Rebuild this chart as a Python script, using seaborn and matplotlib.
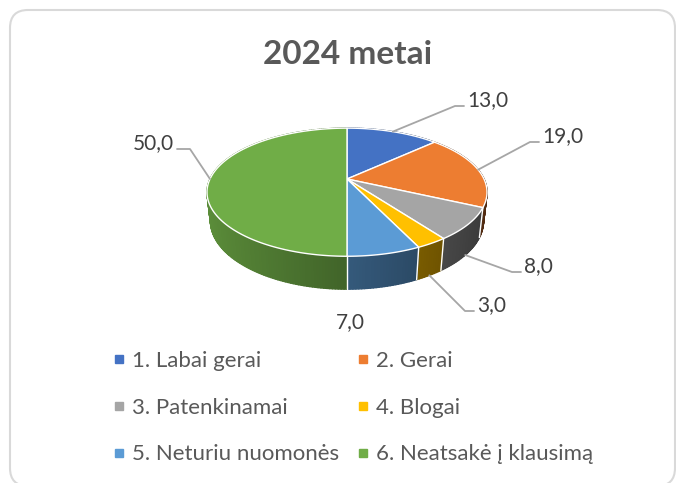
import numpy as np
import seaborn as sns
import matplotlib.pyplot as plt
from matplotlib.collections import PolyCollection
from matplotlib.patches import Polygon, FancyBboxPatch
from matplotlib.lines import Line2D
from matplotlib.colors import to_rgb

# ---- data ----
title = '2024 metai'
categories = ['1. Labai gerai', '2. Gerai', '3. Patenkinamai', '4. Blogai',
              '5. Neturiu nuomonės', '6. Neatsakė į klausimą']
values = [13.0, 19.0, 8.0, 3.0, 7.0, 50.0]
colors = ['#4472C4', '#ED7D31', '#A5A5A5', '#FFC000', '#5B9BD5', '#70AD47']

# data label text positions (px) and alignment
label_pos = [(467, 100, 'left'), (542, 136, 'left'), (524, 266, 'left'),
             (477, 305, 'left'), (350, 322, 'center'), (174, 143, 'right')]
leader = [True, True, True, True, False, True]

sns.set_theme(style='white')
plt.rcParams['font.family'] = ['Lato', 'DejaVu Sans']
palette = sns.color_palette(colors)

W, H = 676, 483
fig = plt.figure(figsize=(W / 100, H / 100), dpi=100)
ax = fig.add_axes([0, 0, 1, 1])
ax.set_xlim(0, W)
ax.set_ylim(H, 0)
ax.axis('off')

# chart border
ax.add_patch(FancyBboxPatch((10, 10), 665, 476, boxstyle='round,pad=0,rounding_size=18',
                            fc='white', ec='#d9d9d9', lw=1.5, clip_on=False, zorder=0))

# 3d pie projection
cx, cy, k = 347, 179, 137
elev = np.radians(26.6)
dist = 4.34
depth = 0.235


def proj(phi, z=0.0):
    x, y = np.cos(phi), np.sin(phi)
    v = y * np.sin(elev) + z * np.cos(elev)
    d = y * np.cos(elev) - z * np.sin(elev)
    s = dist / (dist + d)
    return cx + k * x * s, cy - k * v * s, d


total = sum(values)
cum = np.concatenate([[0], np.cumsum(values)])
starts = np.radians(90 - 360 * cum[:-1] / total)
ends = np.radians(90 - 360 * cum[1:] / total)

# side walls, far to near
quads, qcols, qdepth = [], [], []
for i in range(len(values)):
    n = max(4, int(abs(np.degrees(ends[i] - starts[i]))))
    ph = np.linspace(starts[i], ends[i], n + 1)
    base = np.array(to_rgb(palette[i]))
    for a, b in zip(ph[:-1], ph[1:]):
        x1, y1, _ = proj(a)
        x2, y2, _ = proj(b)
        x3, y3, _ = proj(b, -depth)
        x4, y4, _ = proj(a, -depth)
        m = (a + b) / 2
        f = 0.58 - 0.25 * np.cos(m)
        quads.append([(x1, y1), (x2, y2), (x3, y3), (x4, y4)])
        qcols.append(np.clip(base * f, 0, 1))
        qdepth.append(proj(m)[2])
order = np.argsort(qdepth)[::-1]
ax.add_collection(PolyCollection([quads[j] for j in order],
                                 facecolors=[qcols[j] for j in order],
                                 edgecolors=[qcols[j] for j in order],
                                 linewidths=1.0, zorder=2))

# white seams on the visible side
for a in starts:
    if np.sin(a) < 0:
        x1, y1, _ = proj(a)
        x2, y2, _ = proj(a, -depth)
        ax.plot([x1, x2], [y1, y2], color='white', lw=1, zorder=3)

# top faces
for i in range(len(values)):
    n = max(4, int(abs(np.degrees(ends[i] - starts[i]))))
    ph = np.linspace(starts[i], ends[i], n + 1)
    pts = [(cx, cy)] + [proj(p)[:2] for p in ph]
    ax.add_patch(Polygon(pts, closed=True, fc=palette[i], ec='white', lw=1, zorder=4))

# data labels with leader lines
for i, v in enumerate(values):
    tx, ty, ha = label_pos[i]
    txt = f'{v:.1f}'.replace('.', ',')
    ax.text(tx, ty, txt, ha=ha, va='center', fontsize=15, color='#404040', zorder=6)
    if not leader[i]:
        continue
    m = (starts[i] + ends[i]) / 2
    z = -depth if np.sin(m) < -0.3 else 0.0
    axp, ayp, _ = proj(m, z)
    if ha == 'left':
        xs = [axp, tx - 12, tx - 3]
    else:
        xs = [axp, tx + 16, tx + 3]
    ys = [ayp, ty + 6, ty + 6]
    ax.plot(xs, ys, color='#a6a6a6', lw=1.3, zorder=5)

# title
ax.text(348, 54, title, ha='center', va='center', fontsize=24, fontweight='bold',
        color='#595959')

# legend, row-major order
handles = [Line2D([], [], marker='s', ls='none', markersize=5.5, color=palette[i])
           for i in range(len(values))]
idx = [0, 2, 4, 1, 3, 5]
fig.legend([handles[i] for i in idx], [categories[i] for i in idx], ncol=2,
           loc='upper left', bbox_to_anchor=(112 / W, 1 - 351 / H),
           frameon=False, fontsize=16, handlelength=0.6, handletextpad=0.28,
           columnspacing=0.8, labelspacing=1.2, borderpad=0, borderaxespad=0,
           labelcolor='#595959')

fig.savefig('out.png', dpi=100)
